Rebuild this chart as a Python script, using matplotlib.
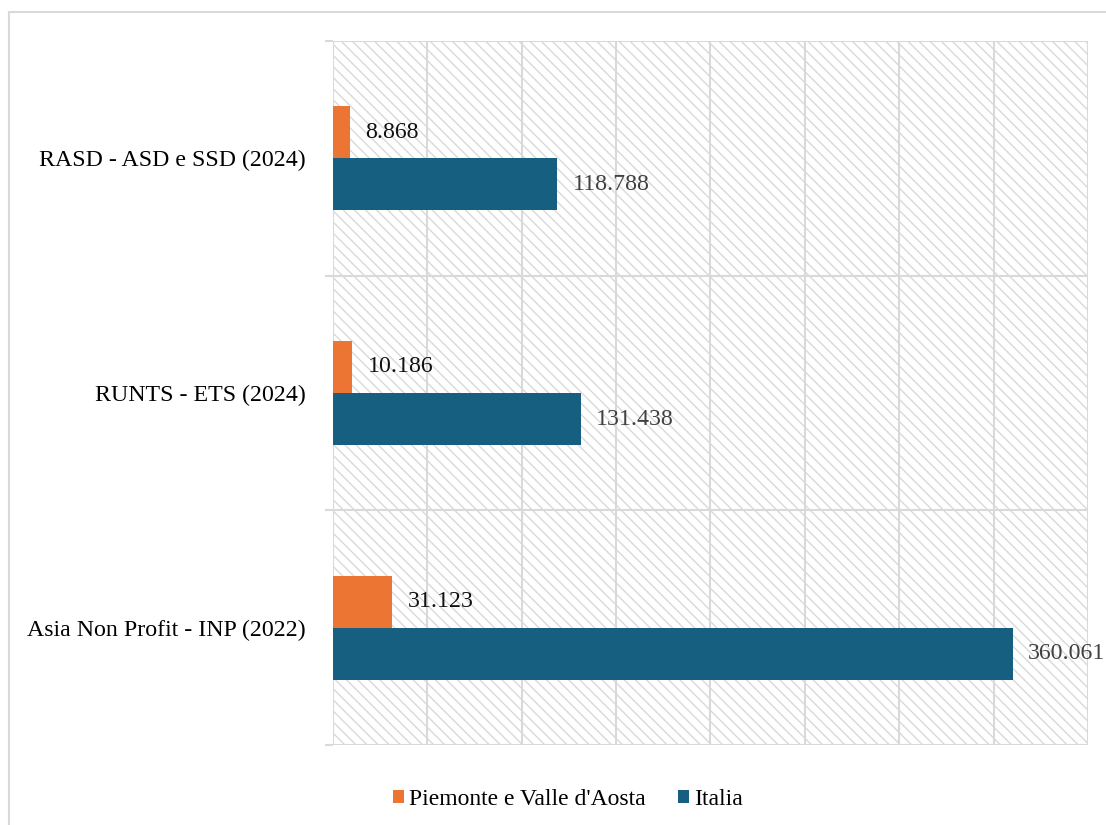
import matplotlib.pyplot as plt
from matplotlib.patches import Rectangle
from matplotlib.lines import Line2D
import numpy as np

plt.rcParams['font.family'] = ['Liberation Serif', 'DejaVu Serif']
plt.rcParams['hatch.linewidth'] = 1.0

categories = ["Asia Non Profit - INP (2022)", "RUNTS - ETS (2024)", "RASD - ASD e SSD (2024)"]
piemonte = [31123, 10186, 8868]
italia = [360061, 131438, 118788]
series_names = ["Piemonte e Valle d'Aosta", "Italia"]

ORANGE = '#ed7533'
BLUE = '#175f80'
GRID = '#d9d9d9'


def fmt_it(v):
    # Italian thousands separator
    return f"{v:,}".replace(",", ".")


fig = plt.figure(figsize=(11.06, 8.25), dpi=100)
ax = fig.add_axes([0.301, 0.097, 0.6827, 0.8533])

y = np.arange(len(categories))
h = 0.222

# hatched background
bg = Rectangle((0, 0), 1, 1, transform=ax.transAxes, facecolor='white',
               edgecolor=GRID, hatch='\\\\\\', linewidth=0, zorder=0)
ax.add_patch(bg)

ax.barh(y + h / 2, piemonte, height=h, color=ORANGE, zorder=3, label=series_names[0])
ax.barh(y - h / 2, italia, height=h, color=BLUE, zorder=3, label=series_names[1])

for yi, v in zip(y, piemonte):
    ax.annotate(fmt_it(v), (v, yi + h / 2), xytext=(11.5, 0), textcoords='offset points',
                va='center', ha='left', fontsize=17.2, color='#111111', zorder=4)
for yi, v in zip(y, italia):
    ax.annotate(fmt_it(v), (v, yi - h / 2), xytext=(11, 0), textcoords='offset points',
                va='center', ha='left', fontsize=17.2, color='#404040', zorder=4,
                annotation_clip=False)

ax.set_xlim(0, 400000)
ax.set_ylim(-0.5, len(categories) - 0.5)
ax.set_xticks(np.arange(0, 400001, 50000))
ax.tick_params(axis='x', length=0, labelbottom=False)
ax.xaxis.grid(True, color=GRID, linewidth=1.5, zorder=1)
ax.set_axisbelow(True)

ax.set_yticks(y)
ax.set_yticklabels(categories, fontsize=17.2)
ax.set_yticks(np.arange(-0.5, len(categories)), minor=True)
ax.tick_params(axis='y', which='major', length=0, pad=19.5)
ax.tick_params(axis='y', which='minor', length=6, width=1.5, color=GRID)
ax.yaxis.grid(True, which='minor', color=GRID, linewidth=1.5, zorder=1)

for s in ax.spines.values():
    s.set_visible(False)

leg = fig.legend(loc='center', bbox_to_anchor=(0.5136, 0.031), ncol=2, frameon=False,
                 fontsize=17, handlelength=0.47, handleheight=0.47, handletextpad=0.22,
                 columnspacing=1.35)

# outer chart frame
fig.add_artist(Line2D([9 / 1106, 1.0], [1 - 12 / 825] * 2, transform=fig.transFigure,
                      color=GRID, linewidth=1.5))
fig.add_artist(Line2D([9 / 1106] * 2, [0.0, 1 - 12 / 825], transform=fig.transFigure,
                      color=GRID, linewidth=1.5))

fig.savefig('out.png', dpi=100)
